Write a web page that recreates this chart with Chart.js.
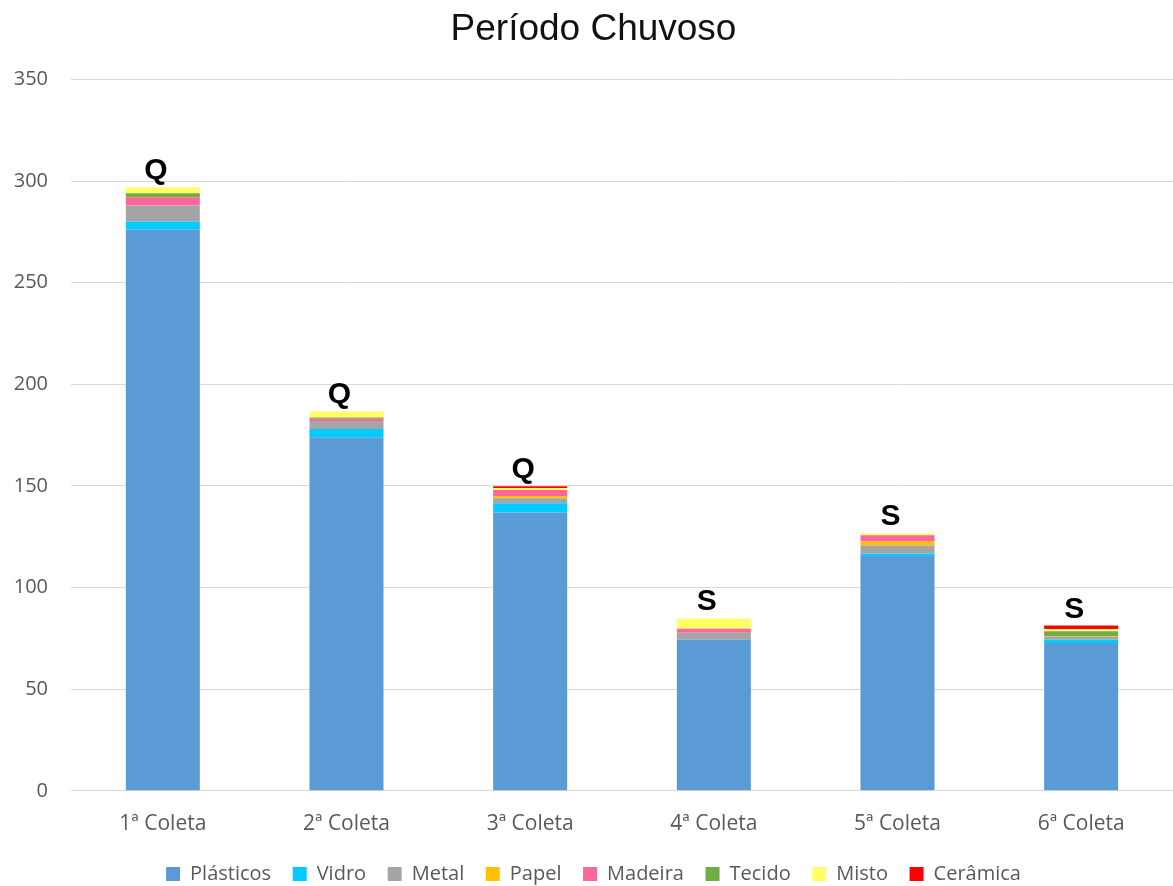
<!DOCTYPE html>
<html>
<head>
<meta charset="utf-8">
<script src="https://cdn.jsdelivr.net/npm/chart.js@4/dist/chart.umd.min.js"></script>
<style>
  html, body { margin: 0; padding: 0; background: #fff; }
  #wrap { width: 1173px; height: 886px; }
</style>
</head>
<body>
<div id="wrap"><canvas id="chart"></canvas></div>
<script>
const coletas = ['1ª Coleta', '2ª Coleta', '3ª Coleta', '4ª Coleta', '5ª Coleta', '6ª Coleta'];
const plasticos = [276, 174, 137, 74.5, 115.6, 72.7];
const vidro = [4, 4, 4.5, 0, 1.1, 1.8];
const metal = [8, 4, 2.5, 3.3, 4, 1.3];
const papel = [0, 0, 1, 0, 2, 0.4];
const madeira = [4, 1, 3, 2, 3, 0];
const tecido = [2, 0.7, 0, 0, 0, 2.3];
const misto = [3, 3, 1, 5, 1, 1];
const ceramica = [0, 0, 0.8, 0, 0, 1.8];
const marcas = ['Q', 'Q', 'Q', 'S', 'S', 'S'];

const series = [
    { label: 'Plásticos', data: plasticos, color: '#5b9bd5' },
    { label: 'Vidro', data: vidro, color: '#00ccff' },
    { label: 'Metal', data: metal, color: '#a5a5a5' },
    { label: 'Papel', data: papel, color: '#ffc000' },
    { label: 'Madeira', data: madeira, color: '#ff6699' },
    { label: 'Tecido', data: tecido, color: '#70ad47' },
    { label: 'Misto', data: misto, color: '#ffff66' },
    { label: 'Cerâmica', data: ceramica, color: '#ff0000' }
];

// letras Q / S acima de cada pilha
const marcasPlugin = {
    id: 'marcas',
    afterDatasetsDraw(chart) {
        const ctx = chart.ctx;
        const last = chart.getDatasetMeta(chart.data.datasets.length - 1);
        ctx.save();
        ctx.font = 'bold 30px "Liberation Sans", Arial, sans-serif';
        ctx.fillStyle = '#000';
        ctx.textAlign = 'center';
        ctx.textBaseline = 'alphabetic';
        last.data.forEach((bar, i) => {
            ctx.fillText(marcas[i], bar.x - 7, bar.y - 8);
        });
        ctx.restore();
    }
};

const tickFont = '"Open Sans", sans-serif';

new Chart(document.getElementById('chart').getContext('2d'), {
    type: 'bar',
    data: {
        labels: coletas,
        datasets: series.map(s => ({
            label: s.label,
            data: s.data,
            backgroundColor: s.color,
            borderWidth: 0,
            barPercentage: 0.403,
            categoryPercentage: 1
        }))
    },
    options: {
        responsive: true,
        maintainAspectRatio: false,
        animation: false,
        layout: { padding: { left: 14, right: 0, top: 0, bottom: -8 } },
        plugins: {
            title: {
                display: true,
                text: 'Período Chuvoso',
                color: '#111',
                font: { family: '"Liberation Sans", Arial, sans-serif', size: 37, weight: 'normal' },
                padding: { top: 8, bottom: 27 }
            },
            legend: {
                position: 'bottom',
                labels: {
                    boxWidth: 14,
                    boxHeight: 14,
                    padding: 6,
                    color: '#595959',
                    font: { family: tickFont, size: 20 },
                    // un peu plus d'espace entre les items
                    generateLabels: (chart) => Chart.defaults.plugins.legend.labels.generateLabels(chart)
                        .map((l, i, arr) => ({ ...l, text: i < arr.length - 1 ? l.text + '   ' : l.text }))
                }
            },
            tooltip: { enabled: false }
        },
        scales: {
            x: {
                stacked: true,
                grid: { display: false, drawTicks: false },
                border: { color: '#d9d9d9' },
                ticks: { color: '#595959', font: { family: tickFont, size: 21, lineHeight: 0.53 }, padding: 28 }
            },
            y: {
                stacked: true,
                min: 0,
                max: 350,
                ticks: { stepSize: 50, color: '#595959', font: { family: tickFont, size: 20 }, padding: 23 },
                grid: { color: '#d9d9d9', drawTicks: false },
                border: { display: false },
                afterFit: (scale) => { scale.width = 57; }
            }
        }
    },
    plugins: [marcasPlugin]
});
</script>
</body>
</html>
